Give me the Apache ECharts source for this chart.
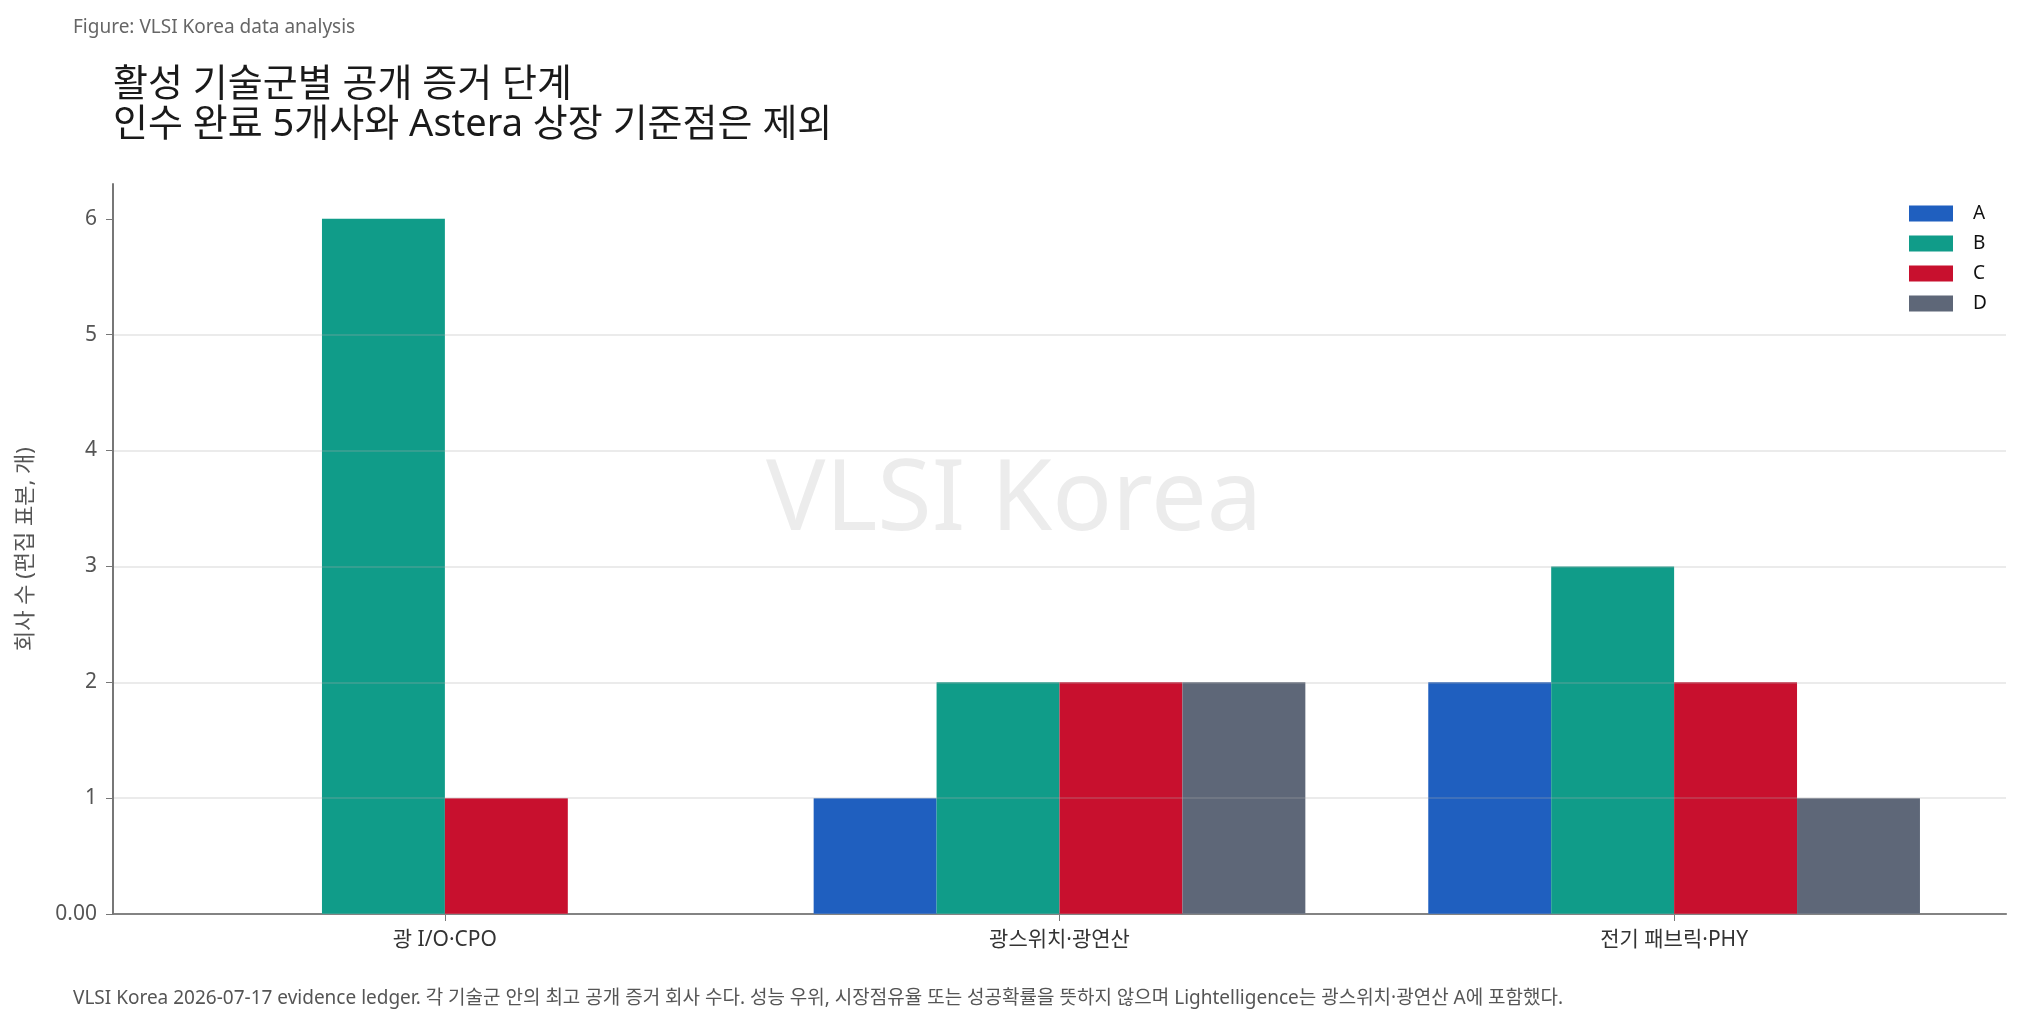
<!DOCTYPE html>
<html>
<head>
<meta charset="utf-8">
<title>활성 기술군별 공개 증거 단계</title>
<script src="https://cdn.jsdelivr.net/npm/echarts@6/dist/echarts.min.js"></script>
<style>
    html, body { margin: 0; padding: 0; background: #fff; }
    #chart { width: 2022px; height: 1025px; }
</style>
</head>
<body>
<div id="chart"></div>
<script>
// 기술군 (x축)
const categories = ['광 I/O·CPO', '광스위치·광연산', '전기 패브릭·PHY'];
// 증거 단계별 회사 수
const stageNames = ['A', 'B', 'C', 'D'];
const stageA = [0, 1, 2];
const stageB = [6, 2, 3];
const stageC = [1, 2, 2];
const stageD = [0, 2, 1];
const yTicks = [0, 1, 2, 3, 4, 5, 6];

const colors = ['#1f5fbf', '#109c89', '#c8102e', '#5e6778'];
const font = '"Noto Sans", "Noto Sans CJK KR", sans-serif';

const chart = echarts.init(document.getElementById('chart'));

function makeSeries(name, values, color) {
    return {
        name: name,
        type: 'bar',
        barWidth: '20%',
        barGap: '0%',
        itemStyle: { color: color },
        z: 1,
        data: values.map((v, i) => [i, v])
    };
}

const option = {
    backgroundColor: '#fff',
    animation: false,
    textStyle: { fontFamily: font },
    title: [
        {
            text: 'Figure: VLSI Korea data analysis',
            left: 73, top: 18, padding: 0,
            textStyle: { fontSize: 19, fontWeight: 'normal', color: '#666', fontFamily: font }
        },
        {
            text: '활성 기술군별 공개 증거 단계\n인수 완료 5개사와 Astera 상장 기준점은 제외',
            left: 113, top: 65, padding: 0,
            textStyle: { fontSize: 38, fontWeight: 'normal', color: '#1a1a1a', lineHeight: 40, fontFamily: font }
        },
        {
            text: 'VLSI Korea 2026-07-17 evidence ledger. 각 기술군 안의 최고 공개 증거 회사 수다. 성능 우위, 시장점유율 또는 성공확률을 뜻하지 않으며 Lightelligence는 광스위치·광연산 A에 포함했다.',
            left: 73, top: 989, padding: 0,
            textStyle: { fontSize: 19, fontWeight: 'normal', color: '#555', fontFamily: font }
        }
    ],
    graphic: [
        {
            type: 'text',
            left: 766, top: 452,
            z: 0,
            silent: true,
            style: {
                text: 'VLSI Korea',
                font: '99px "Noto Sans", sans-serif',
                fill: '#ececec'
            }
        }
    ],
    legend: {
        data: stageNames,
        orient: 'vertical',
        left: 1909, top: 204,
        padding: 0,
        icon: 'rect',
        itemWidth: 44,
        itemHeight: 16,
        itemGap: 11,
        textStyle: { fontSize: 19, color: '#111', fontFamily: font, padding: [0, 0, 0, 15] }
    },
    grid: { left: 113, right: 16, top: 184, bottom: 111, containLabel: false },
    xAxis: {
        type: 'value',
        min: -0.54,
        max: 2.54,
        splitLine: { show: false },
        axisLine: { show: true, onZero: false, lineStyle: { color: '#777', width: 2 } },
        axisTick: { show: true, customValues: [0, 1, 2], length: 7, lineStyle: { color: '#777' } },
        axisLabel: {
            customValues: [0, 1, 2],
            formatter: v => categories[Math.round(v)],
            fontSize: 21, color: '#333', margin: 16, fontFamily: font
        }
    },
    yAxis: {
        type: 'value',
        min: 0,
        max: 6.3,
        interval: 1,
        z: 3,
        name: '회사 수 (편집 표본, 개)',
        nameLocation: 'middle',
        nameRotate: 90,
        nameGap: 76,
        nameTextStyle: { fontSize: 22, color: '#555', fontFamily: font },
        axisLine: { show: true, onZero: false, lineStyle: { color: '#777', width: 2 } },
        axisTick: { show: true, customValues: yTicks, length: 7, lineStyle: { color: '#777' } },
        axisLabel: {
            customValues: yTicks,
            formatter: v => (v === 0 ? '0.00' : String(v)),
            fontSize: 21, color: '#555', margin: 16, fontFamily: font
        },
        splitLine: {
            show: true,
            showMaxLine: false,
            lineStyle: { color: 'rgba(170,170,170,0.32)', width: 1.5 }
        }
    },
    series: [
        makeSeries(stageNames[0], stageA, colors[0]),
        makeSeries(stageNames[1], stageB, colors[1]),
        makeSeries(stageNames[2], stageC, colors[2]),
        makeSeries(stageNames[3], stageD, colors[3])
    ]
};

chart.setOption(option);
window.addEventListener('resize', function () {
    chart.resize();
});
</script>
</body>
</html>
